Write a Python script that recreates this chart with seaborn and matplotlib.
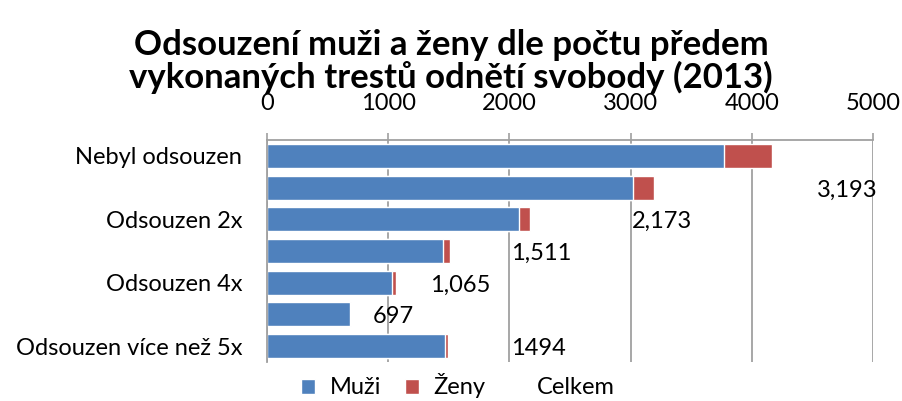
import numpy as np
import pandas as pd
import matplotlib
matplotlib.use("Agg")
import matplotlib.pyplot as plt
from matplotlib.patches import Patch
import seaborn as sns

# data
kategorie = ["Nebyl odsouzen", "Odsouzen 1x", "Odsouzen 2x", "Odsouzen 3x",
             "Odsouzen 4x", "Odsouzen 5x", "Odsouzen více než 5x"]
muzi = [3771, 3020, 2078, 1451, 1030, 685, 1470]
zeny = [397, 173, 95, 60, 35, 12, 24]
celkem = [4168, 3193, 2173, 1511, 1065, 697, 1494]
celkem_popisky = ["4,168", "3,193", "2,173", "1,511", "1,065", "697", "1494"]
x_ticks = [0, 1000, 2000, 3000, 4000, 5000]

df = pd.DataFrame({"kategorie": kategorie, "Muži": muzi, "Ženy": zeny, "Celkem": celkem})
df["soucet"] = df["Muži"] + df["Ženy"]

sns.set_style("white")
plt.rcParams["font.family"] = ["Lato", "DejaVu Sans"]
plt.rcParams["text.color"] = "black"
plt.rcParams["xtick.labelcolor"] = "black"
plt.rcParams["ytick.labelcolor"] = "black"

modra = "#4F81BD"
cervena = "#C0504D"
seda = "#A0A0A0"
fs = 17

fig = plt.figure(figsize=(9.02, 4.01), dpi=100)
ax = fig.add_axes([267 / 902, 1 - 362 / 401, (873 - 267) / 902, (362 - 140) / 401])

# stacked bars: total (red) under men (blue)
sns.barplot(data=df, x="soucet", y="kategorie", color=cervena, width=0.76,
            saturation=1, orient="h", ax=ax)
sns.barplot(data=df, x="Muži", y="kategorie", color=modra, width=0.76,
            saturation=1, orient="h", ax=ax)

ax.set_xlim(0, 5000)
ax.set_ylim(6.5, -0.5)
ax.set_xlabel("")
ax.set_ylabel("")

# x axis on top
ax.xaxis.tick_top()
ax.set_xticks(x_ticks)
ax.set_xticklabels([str(t) for t in x_ticks], fontsize=fs)
ax.tick_params(axis="x", which="major", direction="out", length=5, width=1.2,
               color=seda, pad=14, top=True, bottom=False)
ax.grid(axis="x", color=seda, linewidth=1.3)
ax.set_axisbelow(True)

# only every other category label
ax.set_yticks(range(len(kategorie)))
ax.set_yticklabels([k if i % 2 == 0 else "" for i, k in enumerate(kategorie)], fontsize=fs)
ax.tick_params(axis="y", which="major", length=0, pad=18)
ax.set_yticks(np.arange(-0.5, len(kategorie), 1), minor=True)
ax.tick_params(axis="y", which="minor", direction="out", length=6, width=1.2, color=seda)

for s in ["right", "bottom"]:
    ax.spines[s].set_visible(False)
for s in ["top", "left"]:
    ax.spines[s].set_color(seda)
    ax.spines[s].set_linewidth(1.3)

# "Celkem" labels sit in the middle of the invisible third segment
for i, (c, lab) in enumerate(zip(celkem, celkem_popisky)):
    xpos = c * 1.5
    if xpos <= 5000:
        ax.text(xpos, i + 0.08, lab, ha="center", va="center", fontsize=fs, clip_on=False)

fig.text(0.5, 1 - 45 / 401, "Odsouzení muži a ženy dle počtu předem",
         ha="center", va="center", fontsize=25, fontweight="bold")
fig.text(0.5, 1 - 77 / 401, "vykonaných trestů odnětí svobody (2013)",
         ha="center", va="center", fontsize=25, fontweight="bold")

handles = [Patch(facecolor=modra), Patch(facecolor=cervena), Patch(facecolor="none", edgecolor="none")]
fig.legend(handles, ["Muži", "Ženy", "Celkem"], loc="center", bbox_to_anchor=(458 / 902, 1 - 386 / 401),
           ncol=3, frameon=False, fontsize=fs, handlelength=0.6, handleheight=0.6,
           handletextpad=0.6, columnspacing=1.0)

fig.savefig("out.png", dpi=100)
